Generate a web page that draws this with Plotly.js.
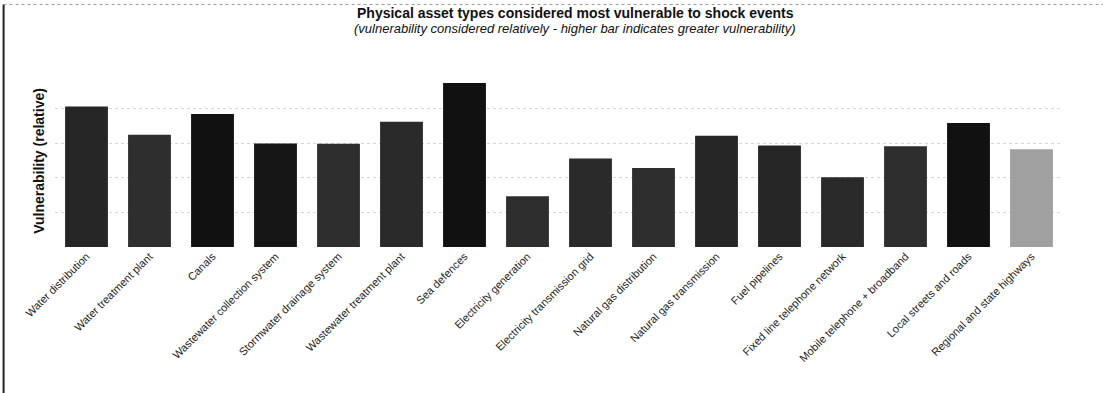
<!DOCTYPE html>
<html>
<head>
<meta charset="utf-8">
<script src="https://cdn.plot.ly/plotly-3.0.1.min.js"></script>
<style>
html,body{margin:0;padding:0;background:#fff;}
#chart{width:1103px;height:393px;}
</style>
</head>
<body>
<div id="chart"></div>
<script>
const categories = [
  "Water distribution",
  "Water treatment plant",
  "Canals",
  "Wastewater collection system",
  "Stormwater drainage system",
  "Wastewater treatment plant",
  "Sea defences",
  "Electricity generation",
  "Electricity transmission grid",
  "Natural gas distribution",
  "Natural gas transmission",
  "Fuel pipelines",
  "Fixed line telephone network",
  "Mobile telephone + broadband",
  "Local streets and roads",
  "Regional and state highways"
];
const vulnerability = [4.07, 3.25, 3.85, 3.0, 2.99, 3.63, 4.75, 1.47, 2.56, 2.29, 3.22, 2.94, 2.02, 2.92, 3.59, 2.83];
const barColors = ["#262626","#2e2e2e","#111111","#161616","#2e2e2e","#2a2a2a","#111111","#2e2e2e","#2a2a2a","#2e2e2e","#262626","#262626","#2a2a2a","#2e2e2e","#111111","#a0a0a0"];
const titleText = "Physical asset types considered most vulnerable to shock events";
const subtitleText = "(vulnerability considered relatively - higher bar indicates greater vulnerability)";
const yTitle = "Vulnerability (relative)";

const trace = {
  type: "bar",
  x: categories,
  y: vulnerability,
  marker: {color: barColors, line: {width: 0}},
  hoverinfo: "x+y"
};

const layout = {
  width: 1103, height: 393,
  paper_bgcolor: "#fff", plot_bgcolor: "#fff",
  margin: {l: 55, r: 40, t: 75, b: 146},
  bargap: 0.32,
  showlegend: false,
  font: {family: "Liberation Sans, Arial, sans-serif", color: "#111"},
  xaxis: {
    tickangle: -45,
    tickfont: {size: 11, color: "#222"},
    showline: false, ticks: "", showgrid: false, zeroline: false
  },
  yaxis: {
    range: [0, 4.98],
    dtick: 1,
    showticklabels: false,
    showgrid: true, gridcolor: "#d4d4d4", griddash: "dot", gridwidth: 1,
    zeroline: false, showline: false, ticks: "",
    title: {text: "<b>" + yTitle + "</b>", font: {size: 14, color: "#111"}, standoff: 6}
  },
  annotations: [
    {text: "<b>" + titleText + "</b>", xref: "paper", yref: "paper", x: 0.516, y: 1, xanchor: "center", yanchor: "middle", yshift: 62, showarrow: false, font: {size: 14, color: "#111"}},
    {text: "<i>" + subtitleText + "</i>", xref: "paper", yref: "paper", x: 0.516, y: 1, xanchor: "center", yanchor: "middle", yshift: 47, showarrow: false, font: {size: 13, color: "#111"}}
  ],
  shapes: [
    {type: "line", xref: "paper", yref: "paper", x0: -0.051, x1: -0.051, y0: -0.85, y1: 1.41, line: {color: "#222", width: 2}},
    {type: "line", xref: "paper", yref: "paper", x0: -0.051, x1: 1.04, y0: 1.41, y1: 1.41, line: {color: "#999", width: 1, dash: "dot"}}
  ]
};

Plotly.newPlot("chart", [trace], layout, {displayModeBar: false, staticPlot: true});
</script>
</body>
</html>
